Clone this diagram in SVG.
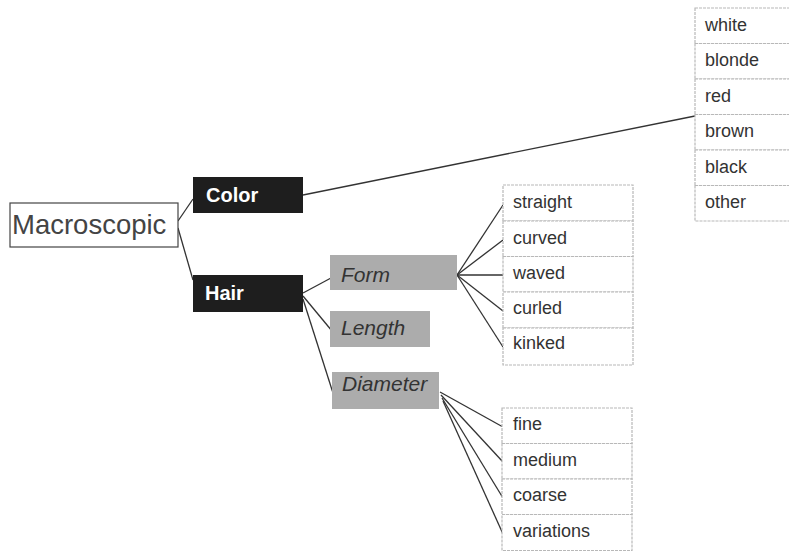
<svg xmlns="http://www.w3.org/2000/svg" width="789" height="554" viewBox="0 0 789 554">
<style>
.bg{fill:#fff}
.root{fill:#fff;stroke:#444;stroke-width:1.2}
.rootT{font-family:"Liberation Sans",Arial,sans-serif;font-size:27.5px;fill:#444}
.dark{fill:#1e1e1e}
.darkT{font-family:"Liberation Sans",Arial,sans-serif;font-size:20px;font-weight:bold;fill:#fff}
.grey{fill:#acacac}
.greyT{font-family:"Liberation Sans",Arial,sans-serif;font-size:21px;font-style:italic;fill:#333}
.item{fill:#fff;stroke:#b8b8b8;stroke-width:1.2;stroke-dasharray:3 1}
.itemT{font-family:"Liberation Sans",Arial,sans-serif;font-size:18px;fill:#333}
.con line{stroke:#333;stroke-width:1.3}
</style>
<rect class="bg" x="0" y="0" width="789" height="554"/>
<g id="connectors" class="con">
<line x1="178" y1="221" x2="193" y2="199"/>
<line x1="178" y1="228" x2="193" y2="280"/>
<line x1="303" y1="195" x2="695" y2="116"/>
<line x1="303" y1="293" x2="331" y2="278"/>
<line x1="303" y1="296" x2="332" y2="331"/>
<line x1="303" y1="299" x2="333" y2="393"/>
<line x1="457" y1="275" x2="503" y2="205"/>
<line x1="457" y1="275" x2="503" y2="240"/>
<line x1="457" y1="275" x2="503" y2="275"/>
<line x1="457" y1="275" x2="503" y2="311"/>
<line x1="457" y1="275" x2="503" y2="347"/>
<line x1="440" y1="392" x2="503" y2="427"/>
<line x1="441" y1="395" x2="503" y2="462"/>
<line x1="442" y1="398" x2="503" y2="498"/>
<line x1="443" y1="401" x2="503" y2="534"/>
</g>
<g id="macroscopic"><rect class="root" x="10" y="203" width="168" height="44"/><text class="rootT" x="12" y="234">Macroscopic</text></g>
<g id="color"><rect class="dark" x="193" y="177" width="110" height="36"/><text class="darkT" x="206" y="202">Color</text></g>
<g id="hair"><rect class="dark" x="193" y="275" width="110" height="37"/><text class="darkT" x="205" y="300">Hair</text></g>
<g id="form"><rect class="grey" x="330" y="255" width="127" height="35"/><text class="greyT" x="341" y="282">Form</text></g>
<g id="length"><rect class="grey" x="330" y="311" width="100" height="36"/><text class="greyT" x="341" y="335">Length</text></g>
<g id="diameter"><rect class="grey" x="332" y="372" width="107" height="37"/><text class="greyT" x="342" y="391">Diameter</text></g>
<g id="colors">
<rect class="item" x="695" y="8" width="100" height="35.5"/><text class="itemT" x="705" y="31">white</text>
<rect class="item" x="695" y="43.5" width="100" height="35.5"/><text class="itemT" x="705" y="66">blonde</text>
<rect class="item" x="695" y="79" width="100" height="35.5"/><text class="itemT" x="705" y="102">red</text>
<rect class="item" x="695" y="114.5" width="100" height="35.5"/><text class="itemT" x="705" y="137">brown</text>
<rect class="item" x="695" y="150" width="100" height="35.5"/><text class="itemT" x="705" y="173">black</text>
<rect class="item" x="695" y="185.5" width="100" height="35.5"/><text class="itemT" x="705" y="208">other</text>
</g>
<g id="forms">
<rect class="item" x="503" y="185" width="130" height="36"/><text class="itemT" x="513" y="208">straight</text>
<rect class="item" x="503" y="221" width="130" height="35.5"/><text class="itemT" x="513" y="244">curved</text>
<rect class="item" x="503" y="256.5" width="130" height="35.5"/><text class="itemT" x="513" y="279">waved</text>
<rect class="item" x="503" y="292" width="130" height="36"/><text class="itemT" x="513" y="314">curled</text>
<rect class="item" x="503" y="328" width="130" height="37"/><text class="itemT" x="513" y="349">kinked</text>
</g>
<g id="diameters">
<rect class="item" x="502" y="408" width="130" height="35.5"/><text class="itemT" x="513" y="430">fine</text>
<rect class="item" x="502" y="443.5" width="130" height="35.5"/><text class="itemT" x="513" y="466">medium</text>
<rect class="item" x="502" y="479" width="130" height="35.5"/><text class="itemT" x="513" y="501">coarse</text>
<rect class="item" x="502" y="514.5" width="130" height="36"/><text class="itemT" x="513" y="537">variations</text>
</g>
</svg>
